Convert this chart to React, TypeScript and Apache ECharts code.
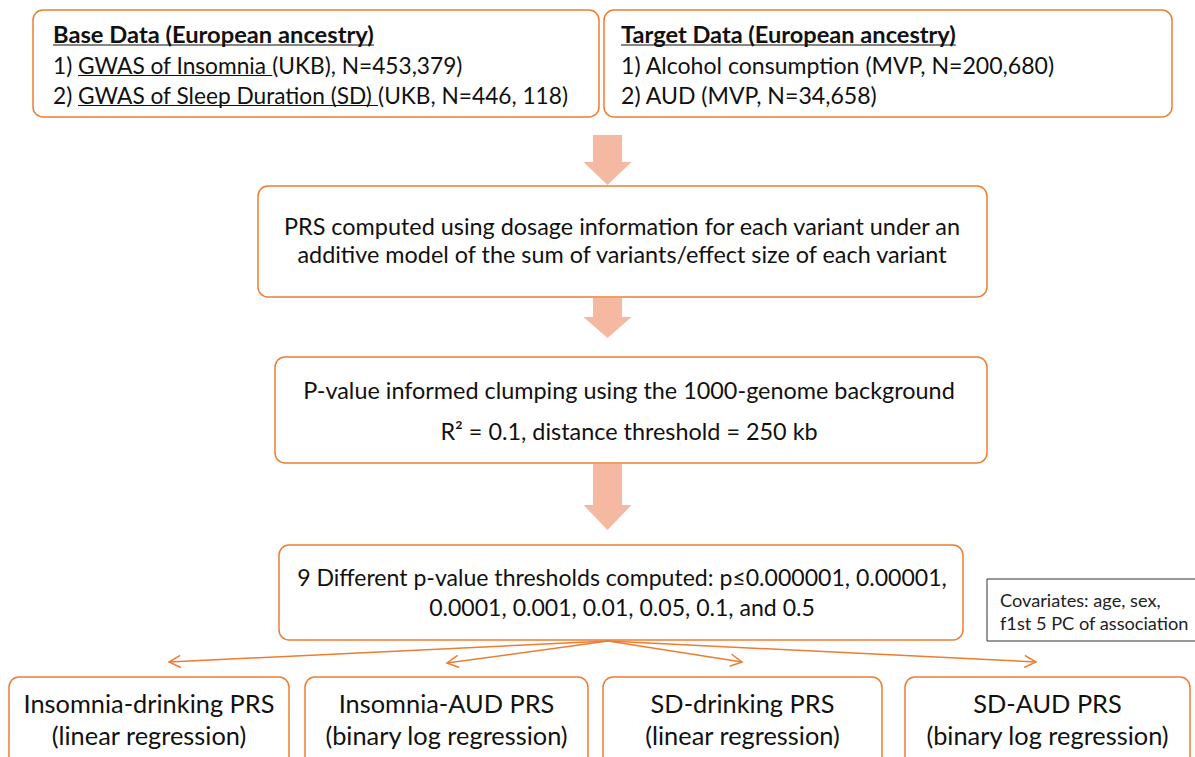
import React, { useEffect, useRef } from "react";
import * as echarts from "echarts";

const FONT = "Lato, 'Noto Sans', sans-serif";
const ORANGE = "#ED7D31";
const ARROW_FILL = "#F4B9A0";
const TEXT = "#111111";

// ---- content ----
const baseTitle = "Base Data (European ancestry)";
const baseLines: [string, boolean][][] = [
  [["1) ", false], ["GWAS of Insomnia ", true], ["(UKB), N=453,379)", false]],
  [["2) ", false], ["GWAS of Sleep Duration (SD) ", true], ["(UKB, N=446, 118)", false]],
];
const targetTitle = "Target Data (European ancestry)";
const targetLines = ["1) Alcohol consumption (MVP, N=200,680)", "2) AUD (MVP, N=34,658)"];
const prsLines = [
  "PRS computed using dosage information for each variant under an",
  "additive model of the sum of variants/effect size of each variant",
];
const clumpLines = ["P-value informed clumping using the 1000-genome background", "R\u00B2 = 0.1, distance threshold = 250 kb"];
const thresholdLines = ["9 Different p-value thresholds computed: p\u22640.000001, 0.00001,", "0.0001, 0.001, 0.01, 0.05, 0.1, and 0.5"];
const covariateLines = ["Covariates: age, sex,", "f1st 5 PC of association"];
const outcomeTitles = ["Insomnia-drinking PRS", "Insomnia-AUD PRS", "SD-drinking PRS", "SD-AUD PRS"];
const outcomeMethods = ["(linear regression)", "(binary log regression)", "(linear regression)", "(binary log regression)"];

let ctx: CanvasRenderingContext2D | null = null;
function measure(text: string, size: number, weight = "normal") {
  if (!ctx) ctx = document.createElement("canvas").getContext("2d");
  ctx!.font = `${weight} ${size}px ${FONT}`;
  return ctx!.measureText(text).width;
}
function fit(text: string, target: number, weight = "normal") {
  return (100 * target) / measure(text, 100, weight);
}

function txt(text: string, x: number, y: number, size: number, align = "left", weight = "normal", fill = TEXT) {
  return {
    type: "text",
    z: 3,
    x,
    y,
    style: {
      text,
      fill,
      fontSize: size,
      fontFamily: FONT,
      fontWeight: weight,
      textAlign: align,
      textVerticalAlign: "middle",
      align,
      verticalAlign: "middle",
    },
  };
}
function box(x: number, y: number, w: number, h: number, r = 10, stroke = ORANGE, lw = 1.5) {
  return {
    type: "rect",
    z: 1,
    shape: { x, y, width: w, height: h, r },
    style: { fill: "#ffffff", stroke, lineWidth: lw },
  };
}
function uline(x1: number, x2: number, y: number) {
  return { type: "line", z: 3, shape: { x1, y1: y, x2, y2: y }, style: { stroke: TEXT, lineWidth: 1.2 } };
}
function fatArrow(cx: number, top: number, headTop: number, tip: number) {
  return {
    type: "polygon",
    z: 0,
    shape: {
      points: [
        [cx - 14.5, top],
        [cx + 14.5, top],
        [cx + 14.5, headTop],
        [cx + 24, headTop],
        [cx, tip],
        [cx - 24, headTop],
        [cx - 14.5, headTop],
      ],
    },
    style: { fill: ARROW_FILL },
  };
}
function thinArrow(x0: number, y0: number, x1: number, y1: number) {
  const ang = Math.atan2(y1 - y0, x1 - x0);
  const L = 13;
  const a = Math.PI / 6.5;
  const p1 = [x1 - L * Math.cos(ang - a), y1 - L * Math.sin(ang - a)];
  const p2 = [x1 - L * Math.cos(ang + a), y1 - L * Math.sin(ang + a)];
  return [
    { type: "line", z: 2, shape: { x1: x0, y1: y0, x2: x1, y2: y1 }, style: { stroke: ORANGE, lineWidth: 1.5 } },
    { type: "polyline", z: 2, shape: { points: [p1, [x1, y1], p2] }, style: { stroke: ORANGE, lineWidth: 1.5, fill: null } },
  ];
}

function buildElements() {
  const els: any[] = [];

  // Base data box
  els.push(box(33, 10, 566, 107));
  const btSize = fit(baseTitle, 321, "bold");
  els.push(txt(baseTitle, 53, 34, btSize, "left", "bold"));
  els.push(uline(53, 53 + measure(baseTitle, btSize, "bold"), 45));
  const blSize = fit(baseLines[1].map((s) => s[0]).join(""), 515);
  baseLines.forEach((segs, i) => {
    const y = 65 + i * 30;
    let x = 53;
    segs.forEach(([s, u]) => {
      const w = measure(s, blSize);
      els.push(txt(s, x, y, blSize));
      if (u) els.push(uline(x, x + w, y + 10.5));
      x += w;
    });
  });

  // Target data box
  els.push(box(604, 10, 568, 107));
  const ttSize = fit(targetTitle, 335, "bold");
  els.push(txt(targetTitle, 621, 34, ttSize, "left", "bold"));
  els.push(uline(621, 621 + measure(targetTitle, ttSize, "bold"), 45));
  const tlSize = fit(targetLines[0], 434);
  targetLines.forEach((s, i) => els.push(txt(s, 621, 65 + i * 30, tlSize)));

  // Arrow 1
  els.push(fatArrow(607.5, 135, 162, 185));

  // PRS box
  els.push(box(258, 186, 729, 111));
  const pSize = fit(prsLines[0], 678);
  prsLines.forEach((s, i) => els.push(txt(s, 622, 226 + i * 28, pSize, "center")));

  // Arrow 2
  els.push(fatArrow(607.5, 298, 317, 338));

  // Clumping box
  els.push(box(275, 357, 712, 106));
  const cSize = fit(clumpLines[0], 652);
  clumpLines.forEach((s, i) => els.push(txt(s, 629, 390 + i * 41, cSize, "center")));

  // Arrow 3
  els.push(fatArrow(607.5, 464, 505, 530));

  // Threshold box
  els.push(box(279, 545, 684, 95));
  const thSize = fit(thresholdLines[0], 650);
  thresholdLines.forEach((s, i) => els.push(txt(s, 622, 577 + i * 30, thSize, "center")));

  // Covariates box
  els.push(box(987, 579, 220, 62, 0, "#333333", 1));
  const covSize = fit(covariateLines[1], 189);
  covariateLines.forEach((s, i) => els.push(txt(s, 1000, 600 + i * 23, covSize, "left", "normal", "#222222")));

  // Thin arrows
  const tips = [
    [169, 662],
    [447, 663],
    [742, 662],
    [1036, 662],
  ];
  tips.forEach(([x, y]) => thinArrow(608, 641, x, y).forEach((e) => els.push(e)));

  // Outcome boxes
  const bx = [
    [9, 280],
    [305, 283],
    [603, 279],
    [905, 285],
  ];
  const oSize = fit(outcomeMethods[1], 243);
  bx.forEach(([x, w], i) => {
    els.push(box(x, 677, w, 110));
    els.push(txt(outcomeTitles[i], x + w / 2, 703, oSize, "center"));
    els.push(txt(outcomeMethods[i], x + w / 2, 735, oSize, "center"));
  });

  return els;
}

export default function App() {
  const ref = useRef<HTMLDivElement>(null);
  useEffect(() => {
    document.body.style.margin = "0";
    const chart = echarts.init(ref.current!, null, { renderer: "svg" });
    chart.setOption({
      animation: false,
      backgroundColor: "#ffffff",
      graphic: { elements: buildElements() },
    });
    return () => chart.dispose();
  }, []);
  return <div ref={ref} style={{ position: "absolute", left: 0, top: 0, width: 1195, height: 757 }} />;
}
